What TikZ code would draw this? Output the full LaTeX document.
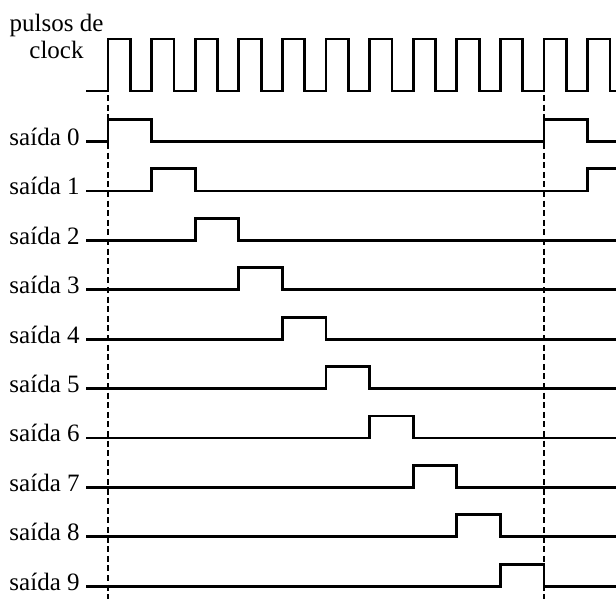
\documentclass[tikz,border=0pt]{standalone}
\usepackage{fontspec}
\setmainfont{Liberation Serif}
\begin{document}
\begin{tikzpicture}[x=0.5pt,y=-0.5pt,
    sig/.style={line width=1.4pt,line join=miter},
    mark line/.style={line width=1.2pt,dash pattern=on 3pt off 1.8pt},
    lbl/.style={inner sep=0pt,anchor=base east,font=\fontsize{12.5}{13.5}\selectfont}]
  \useasboundingbox (0,0) rectangle (616,599);
  % Clock
  \node[lbl,anchor=base,align=center] (clk) at (56.5,59) {pulsos de\\clock};
  \draw[sig] (86,91) -- (108,91)
    \foreach \k in {0,...,10} { -- ++(0,-52) -- ++(22.4,0) -- ++(0,52) -- ++(21.2,0) }
    -- ++(0,-52) -- ++(22.4,0) -- ++(0,52) -- (616,91);
  % Markers
  \draw[mark line] (108,95) -- (108,599);
  \draw[mark line] (544,95) -- (544,599);
  % Outputs
  \foreach \k in {0,...,9} {
    \pgfmathsetmacro\yy{141.5+49.4*\k}
    \node[lbl] (s\k) at (80,\yy+4) {saída \k};
  }
  \draw[sig] (86,141.5) -- (108,141.5) -- (108,119.5) -- (151.6,119.5) -- (151.6,141.5)
    -- (544,141.5) -- (544,119.5) -- (587.6,119.5) -- (587.6,141.5) -- (616,141.5);
  \draw[sig] (86,190.9) -- (151.6,190.9) -- (151.6,168.9) -- (195.2,168.9) -- (195.2,190.9)
    -- (587.6,190.9) -- (587.6,168.9) -- (616,168.9);
  \foreach \k in {2,...,9} {
    \pgfmathsetmacro\yy{141.5+49.4*\k}
    \pgfmathsetmacro\xa{108+43.6*\k}
    \pgfmathsetmacro\xb{\xa+43.6}
    \draw[sig] (86,\yy) -- (\xa,\yy) -- (\xa,\yy-22) -- (\xb,\yy-22) -- (\xb,\yy) -- (616,\yy);
  }
\end{tikzpicture}
\end{document}
